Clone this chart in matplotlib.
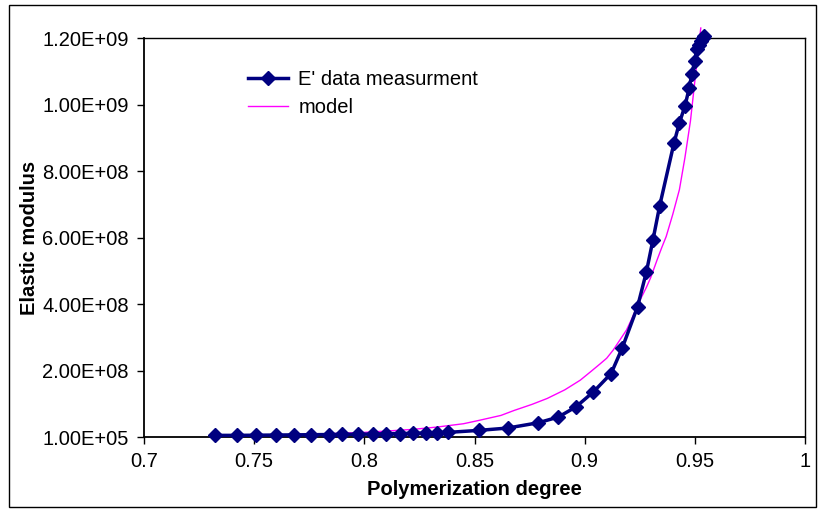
import matplotlib
matplotlib.use("Agg")
import matplotlib.pyplot as plt
from matplotlib.patches import Rectangle

plt.rcParams['font.family'] = ['Liberation Sans', 'DejaVu Sans']

# measured data
x_data = [0.732, 0.742, 0.751, 0.760, 0.768, 0.776, 0.784, 0.790, 0.797, 0.804,
          0.810, 0.816, 0.822, 0.828, 0.833, 0.838, 0.852, 0.865, 0.879, 0.888,
          0.896, 0.904, 0.912, 0.917, 0.924, 0.928, 0.931, 0.934, 0.9405, 0.943,
          0.9455, 0.9475, 0.9486, 0.950, 0.9508, 0.952, 0.9528, 0.9535, 0.954]
y_data = [5e6, 5e6, 5.5e6, 6e6, 6.5e6, 7e6, 7.5e6, 8e6, 8.5e6, 9e6,
          1.0e7, 1.05e7, 1.1e7, 1.2e7, 1.3e7, 1.4e7, 2.0e7, 2.7e7, 4.3e7, 6.0e7,
          9.05e7, 1.36e8, 1.91e8, 2.67e8, 3.92e8, 4.96e8, 5.93e8, 6.94e8, 8.83e8, 9.45e8,
          9.95e8, 1.051e9, 1.091e9, 1.131e9, 1.166e9, 1.18e9, 1.19e9, 1.20e9, 1.207e9]

# model curve
x_model = [0.732, 0.76, 0.78, 0.80, 0.81, 0.822, 0.833, 0.845, 0.852, 0.862, 0.868,
           0.876, 0.883, 0.891, 0.898, 0.903, 0.907, 0.910, 0.913, 0.916, 0.919,
           0.921, 0.925, 0.928, 0.930, 0.933, 0.935, 0.937, 0.940, 0.943, 0.9455,
           0.948, 0.9495, 0.9505, 0.9515, 0.9527]
y_model = [4e6, 6e6, 9e6, 1.4e7, 1.8e7, 2.3e7, 3.0e7, 4.0e7, 5.0e7, 6.5e7, 8.0e7,
           9.8e7, 1.16e8, 1.42e8, 1.71e8, 1.98e8, 2.2e8, 2.37e8, 2.62e8, 2.92e8, 3.22e8,
           3.5e8, 4.1e8, 4.5e8, 4.8e8, 5.35e8, 5.7e8, 6.03e8, 6.7e8, 7.44e8, 8.4e8,
           9.5e8, 1.04e9, 1.1e9, 1.16e9, 1.23e9]

x_ticks = [0.7, 0.75, 0.8, 0.85, 0.9, 0.95, 1.0]
x_ticklabels = ['0.7', '0.75', '0.8', '0.85', '0.9', '0.95', '1']
y_ticks = [1e5, 2e8, 4e8, 6e8, 8e8, 1e9, 1.2e9]
y_ticklabels = ['1.00E+05', '2.00E+08', '4.00E+08', '6.00E+08', '8.00E+08', '1.00E+09', '1.20E+09']

W, H = 818, 511
fig = plt.figure(figsize=(W / 100, H / 100), dpi=100)
L, R, T, B = 144, 805, 38, 437
ax = fig.add_axes([L / W, 1 - B / H, (R - L) / W, (B - T) / H])

ax.plot(x_model, y_model, color='#FF00FF', lw=1.0, label='model', clip_on=False, zorder=2)
ax.plot(x_data, y_data, color='#000080', lw=2.5, marker='D', markersize=7,
        markerfacecolor='#000080', markeredgecolor='#000080',
        label="E' data measurment", clip_on=False, zorder=3)

ax.set_xlim(0.7, 1.0)
ax.set_ylim(1e5, 1.2e9)
ax.set_xticks(x_ticks)
ax.set_xticklabels(x_ticklabels, fontsize=14.5)
ax.set_yticks(y_ticks)
ax.set_yticklabels(y_ticklabels, fontsize=14.5)
ax.tick_params(direction='out', length=5, width=1, pad=6)

for s in ['left', 'bottom']:
    ax.spines[s].set_linewidth(1.3)
for s in ['top', 'right']:
    ax.spines[s].set_linewidth(1.0)

ax.set_xlabel('Polymerization degree', fontsize=14.5, fontweight='bold', labelpad=6)
ax.set_ylabel('Elastic modulus', fontsize=14.5, fontweight='bold', labelpad=2)

handles, labels = ax.get_legend_handles_labels()
leg = ax.legend(handles[::-1], labels[::-1], loc='upper left', bbox_to_anchor=(0.13, 0.965),
                frameon=False, fontsize=14.5, handlelength=2.0, labelspacing=0.45,
                handletextpad=0.5)

fig.patches.append(Rectangle((9 / W, 4 / H), (816 - 9) / W, (506 - 4) / H,
                             transform=fig.transFigure, fill=False,
                             edgecolor='black', lw=1.0))

fig.savefig('out.png', dpi=100)
